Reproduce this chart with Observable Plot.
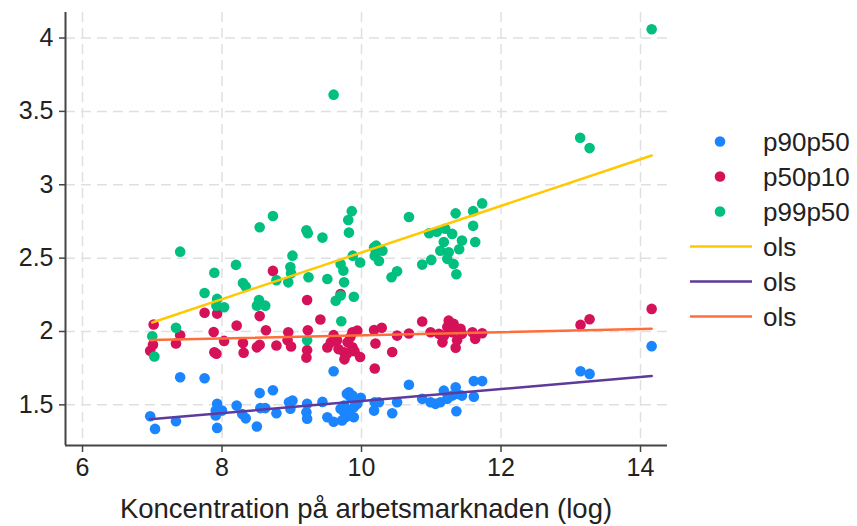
<!DOCTYPE html>
<html>
<head>
<meta charset="utf-8">
<script src="https://cdn.jsdelivr.net/npm/d3@7"></script>
<script src="https://cdn.jsdelivr.net/npm/@observablehq/plot@0.6"></script>
<style>
  html, body { margin: 0; padding: 0; background: #fff; }
  #wrap { position: relative; width: 857px; height: 526px; font-family: "Liberation Sans", Arial, sans-serif; }
  #legend { position: absolute; left: 680px; top: 118px; }
  #xtitle { position: absolute; left: 65px; width: 602px; top: 492px; text-align: center; font-size: 27.5px; color: #222; white-space: nowrap; line-height: 34px; }
</style>
</head>
<body>
<div id="wrap"><div id="chart"></div><div id="legend"></div><div id="xtitle"></div></div>
<script>
// p90p50 (blue)
const p90x = [6.97,7.04,7.34,7.40,7.75,7.93,7.91,8.00,7.91,7.93,8.21,8.29,8.34,8.50,8.54,8.73,8.55,8.62,8.78,8.96,9.01,8.98,9.22,9.21,9.22,9.44,9.51,9.60,9.60,9.70,9.72,9.75,9.77,9.79,9.79,9.82,9.84,9.87,9.89,9.89,9.94,9.99,9.75,10.18,10.19,10.25,10.44,10.51,10.68,10.87,10.99,11.06,11.13,11.18,11.23,11.30,11.35,11.37,11.44,11.36,11.61,11.61,11.73,13.14,13.27,14.16,9.84];
const p90y = [1.422,1.336,1.388,1.688,1.681,1.507,1.461,1.461,1.427,1.343,1.495,1.438,1.408,1.352,1.58,1.60,1.478,1.478,1.443,1.518,1.529,1.473,1.507,1.45,1.405,1.52,1.416,1.385,1.729,1.473,1.393,1.45,1.416,1.461,1.575,1.586,1.552,1.563,1.484,1.416,1.507,1.548,1.495,1.461,1.518,1.518,1.443,1.518,1.637,1.541,1.518,1.507,1.518,1.597,1.541,1.563,1.62,1.575,1.563,1.456,1.556,1.662,1.662,1.729,1.711,1.90,1.427];
// p50p10 (red)
const p50x = [6.97,7.01,7.02,7.34,7.40,7.75,7.88,7.89,7.92,7.93,8.03,8.21,8.30,8.31,8.50,8.54,8.54,8.63,8.73,8.78,8.95,8.94,8.99,9.22,9.23,9.22,9.21,9.41,9.51,9.56,9.60,9.65,9.67,9.70,9.75,9.755,9.79,9.80,9.84,9.87,9.94,9.87,9.90,9.98,10.18,10.29,10.20,10.19,10.44,10.51,10.68,10.87,10.99,11.11,11.16,11.18,11.23,11.25,11.30,11.32,11.35,11.37,11.42,11.44,11.59,11.63,11.73,13.14,13.27,14.16];
const p50y = [1.868,1.91,2.048,1.918,1.974,2.128,1.997,1.858,1.848,2.122,1.936,2.04,1.922,1.855,1.892,1.91,2.105,2.008,2.413,1.905,1.994,1.94,1.898,2.215,2.008,1.873,1.822,2.082,1.891,1.926,1.975,1.94,1.88,2.256,1.858,1.81,1.847,1.926,1.96,1.995,2.006,1.892,1.865,1.826,2.01,2.025,1.918,1.748,1.86,1.972,1.986,2.068,1.995,1.984,1.926,1.97,2.03,2.074,1.995,2.052,1.89,1.94,2.018,1.984,1.995,1.95,1.988,2.045,2.083,2.154];
// p99p50 (green)
const p99x = [7.00,7.03,7.34,7.40,7.75,7.89,7.93,7.92,8.03,8.20,8.30,8.34,8.50,8.53,8.62,8.54,8.73,8.78,8.95,8.98,8.99,9.01,9.21,9.23,9.24,9.22,9.44,9.51,9.60,9.63,9.70,9.71,9.70,9.74,9.75,9.82,9.81,9.86,9.875,9.89,9.98,10.18,10.21,10.30,10.19,10.25,10.43,10.51,10.68,10.87,11.00,10.97,11.08,11.20,11.30,11.18,11.13,11.25,11.23,11.32,11.36,11.35,11.44,11.40,11.60,11.60,11.63,11.73,13.135,13.27,14.16];
const p99y = [1.967,1.83,2.025,2.544,2.262,2.40,2.222,2.176,2.165,2.454,2.33,2.306,2.176,2.215,2.176,2.71,2.787,2.35,2.335,2.44,2.397,2.517,2.69,2.67,2.37,1.94,2.64,2.358,3.614,2.21,2.245,2.07,2.46,2.415,2.335,2.674,2.76,2.82,2.517,2.237,2.47,2.573,2.585,2.55,2.517,2.48,2.37,2.41,2.78,2.456,2.488,2.67,2.68,2.70,2.665,2.61,2.55,2.54,2.495,2.46,2.39,2.805,2.62,2.56,2.82,2.72,2.61,2.873,3.32,3.25,4.06];

const seriesNames = ["p90p50", "p50p10", "p99p50"];
const dotColors = ["#1a85ff", "#d41159", "#00bf7f"];
const olsColors = ["#5d3a9b", "#ff6e3a", "#ffc800"]; // fits for p90p50, p50p10, p99p50
const legendItems = [
  {kind: "dot", label: "p90p50", color: dotColors[0]},
  {kind: "dot", label: "p50p10", color: dotColors[1]},
  {kind: "dot", label: "p99p50", color: dotColors[2]},
  {kind: "line", label: "ols", color: olsColors[2]},
  {kind: "line", label: "ols", color: olsColors[0]},
  {kind: "line", label: "ols", color: olsColors[1]}
];
const xTitle = "Koncentration på arbetsmarknaden (log)";
const xTicks = [6, 8, 10, 12, 14];
const yTicks = [1.5, 2, 2.5, 3, 3.5, 4];
const xDomain = [5.756, 14.387];
const yDomain = [1.223, 4.174];

const toRows = (xs, ys) => xs.map((x, i) => ({x, y: ys[i]}));
const sets = [toRows(p90x, p90y), toRows(p50x, p50y), toRows(p99x, p99y)];

const font = "Liberation Sans, Arial, sans-serif";
const gridStyle = {stroke: "#e0e0e0", strokeOpacity: 1, strokeWidth: 1.5, strokeDasharray: "10,6"};
const chart = Plot.plot({
  width: 690,
  height: 526,
  marginLeft: 65,
  marginRight: 23,
  marginTop: 12,
  marginBottom: 81,
  style: {fontFamily: font, background: "transparent"},
  x: {domain: xDomain},
  y: {domain: yDomain},
  marks: [
    Plot.gridX(xTicks, gridStyle),
    Plot.gridY(yTicks, gridStyle),
    Plot.axisY(yTicks, {tickSize: 6, tickPadding: 6, fontSize: 25, stroke: "#444", strokeWidth: 1.5, color: "#222", tickFormat: d => String(d), label: null}),
    Plot.axisX(xTicks, {tickSize: 7, tickPadding: 6, fontSize: 25, stroke: "#444", strokeWidth: 1.5, color: "#222", tickFormat: d => String(d), label: null}),
    Plot.ruleX([xDomain[0]], {stroke: "#444", strokeWidth: 2}),
    Plot.ruleY([yDomain[0]], {stroke: "#444", strokeWidth: 2}),
    ...sets.map((d, i) => Plot.dot(d, {x: "x", y: "y", r: 5.3, fill: dotColors[i], stroke: null})),
    Plot.linearRegressionY(sets[2], {x: "x", y: "y", stroke: olsColors[2], strokeWidth: 2.5, ci: 0}),
    Plot.linearRegressionY(sets[0], {x: "x", y: "y", stroke: olsColors[0], strokeWidth: 2.5, ci: 0}),
    Plot.linearRegressionY(sets[1], {x: "x", y: "y", stroke: olsColors[1], strokeWidth: 2.5, ci: 0})
  ]
});
document.getElementById("chart").appendChild(chart);
document.getElementById("xtitle").textContent = xTitle;

// legend
const lg = d3.select("#legend").append("svg").attr("width", 177).attr("height", 220)
  .style("font-family", font);
legendItems.forEach((it, i) => {
  const cy = 23.5 + i * 35;
  const g = lg.append("g");
  if (it.kind === "dot") {
    g.append("circle").attr("cx", 40).attr("cy", cy).attr("r", 5.3).attr("fill", it.color);
  } else {
    g.append("line").attr("x1", 10).attr("x2", 72).attr("y1", cy).attr("y2", cy)
      .attr("stroke", it.color).attr("stroke-width", 2.5);
  }
  g.append("text").attr("x", 83).attr("y", cy).attr("dy", "0.35em")
    .attr("font-size", 26).attr("fill", "#222").text(it.label);
});
</script>
</body>
</html>
